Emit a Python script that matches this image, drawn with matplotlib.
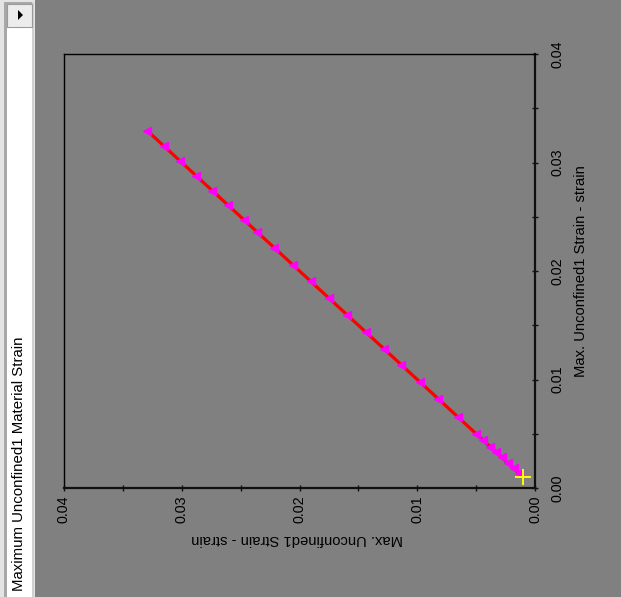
import matplotlib
matplotlib.use("Agg")
import matplotlib.pyplot as plt
from matplotlib.patches import Rectangle, Polygon
from matplotlib.ticker import MultipleLocator, FormatStrFormatter

plt.rcParams['font.family'] = ['Liberation Sans', 'DejaVu Sans']

# Strain history (same quantity on both axes)
strain = [0.00105, 0.00134, 0.00181, 0.00232, 0.00283, 0.00332, 0.00380,
          0.00445, 0.00502, 0.00658, 0.00823, 0.00976, 0.01134, 0.01283,
          0.01438, 0.01594, 0.01751, 0.01906, 0.02057, 0.02213, 0.02360,
          0.02474, 0.02610, 0.02740, 0.02879, 0.03013, 0.03149, 0.03291]
major_ticks = [0.00, 0.01, 0.02, 0.03, 0.04]
title = "Maximum Unconfined1 Material Strain"
axis_label = "Max. Unconfined1 Strain - strain"

W, H = 621, 597
BG = '#808080'
fig = plt.figure(figsize=(W / 100, H / 100), dpi=100, facecolor=BG)

# main plot area (pixel box: x 64..535, y 54..488)
ax = fig.add_axes([64 / W, (H - 488) / H, 471 / W, 434 / H])
ax.set_facecolor(BG)
ax.plot(strain, strain, color='#ff0000', lw=2.3, zorder=2)
ax.plot(strain[1:], strain[1:], ls='none', marker='<', ms=5.5,
        mfc='#ff00ff', mec='#ff00ff', zorder=3)
ax.plot(strain[:1], strain[:1], ls='none', marker='+', ms=11, mew=1.4,
        color='#ffff00', zorder=4)

ax.set_xlim(0.04, 0.0)
ax.set_ylim(0.0, 0.04)
for a in (ax.xaxis, ax.yaxis):
    a.set_major_locator(MultipleLocator(0.01))
    a.set_minor_locator(MultipleLocator(0.005))
    a.set_major_formatter(FormatStrFormatter('%.2f'))
ax.set_xticks(major_ticks)
ax.set_yticks(major_ticks)

ax.yaxis.tick_right()
ax.tick_params(axis='both', which='both', direction='inout', length=5,
               width=1, color='#101010', labelsize=10.3, labelcolor='#000000')
ax.tick_params(axis='y', which='both', left=False, right=True, pad=8.5)
ax.tick_params(axis='x', which='both', top=False, bottom=True, pad=3.0)
for lab in ax.get_yticklabels():
    lab.set_rotation(90)
    lab.set_va('center')
    lab.set_ha('left')
for lab in ax.get_xticklabels():
    lab.set_rotation(90)
    lab.set_ha('center')
    lab.set_va('top')

for side in ('top', 'left'):
    ax.spines[side].set_linewidth(1.0)
    ax.spines[side].set_color('#000000')
for side in ('right', 'bottom'):
    ax.spines[side].set_linewidth(1.6)
    ax.spines[side].set_color('#101010')

ax.yaxis.set_label_position('right')
ax.set_ylabel(axis_label, fontsize=10.6, rotation=90, ha='center', va='center')
ax.yaxis.set_label_coords((581 - 64) / 471, 0.5)
ax.set_xlabel(axis_label, fontsize=10.6, rotation=180, ha='center', va='center')
ax.xaxis.set_label_coords((297 - 64) / 471, (488 - 539) / 434)

# left strip with the chart title
panel = fig.add_axes([0, 0, 36 / W, 1])
panel.set_xlim(0, 36)
panel.set_ylim(H, 0)
panel.axis('off')
panel.add_patch(Rectangle((0, 0), 36, H, facecolor=BG, edgecolor='none'))
panel.add_patch(Rectangle((0, 0), 35, H, facecolor='#e4e4e4', edgecolor='none'))
panel.add_patch(Rectangle((4, 2), 30, H, facecolor='#a8a8a8', edgecolor='none'))
panel.add_patch(Rectangle((7, 4), 25, H, facecolor='#ffffff', edgecolor='none'))
panel.add_patch(Rectangle((32, 2), 2, H, facecolor='#d0d0d0', edgecolor='none'))
# scroll button
panel.add_patch(Rectangle((7, 4), 25, 23, facecolor='#ececec',
                          edgecolor='#9a9a9a', lw=0.8))
panel.add_patch(Polygon([(18, 10), (18, 20), (23, 15)], closed=True,
                        facecolor='#000000', edgecolor='none'))
panel.text(19.5, 591, title, rotation=90, ha='center', va='bottom',
           fontsize=10.8, color='#000000')

fig.savefig('out.png', dpi=100, facecolor=BG)
